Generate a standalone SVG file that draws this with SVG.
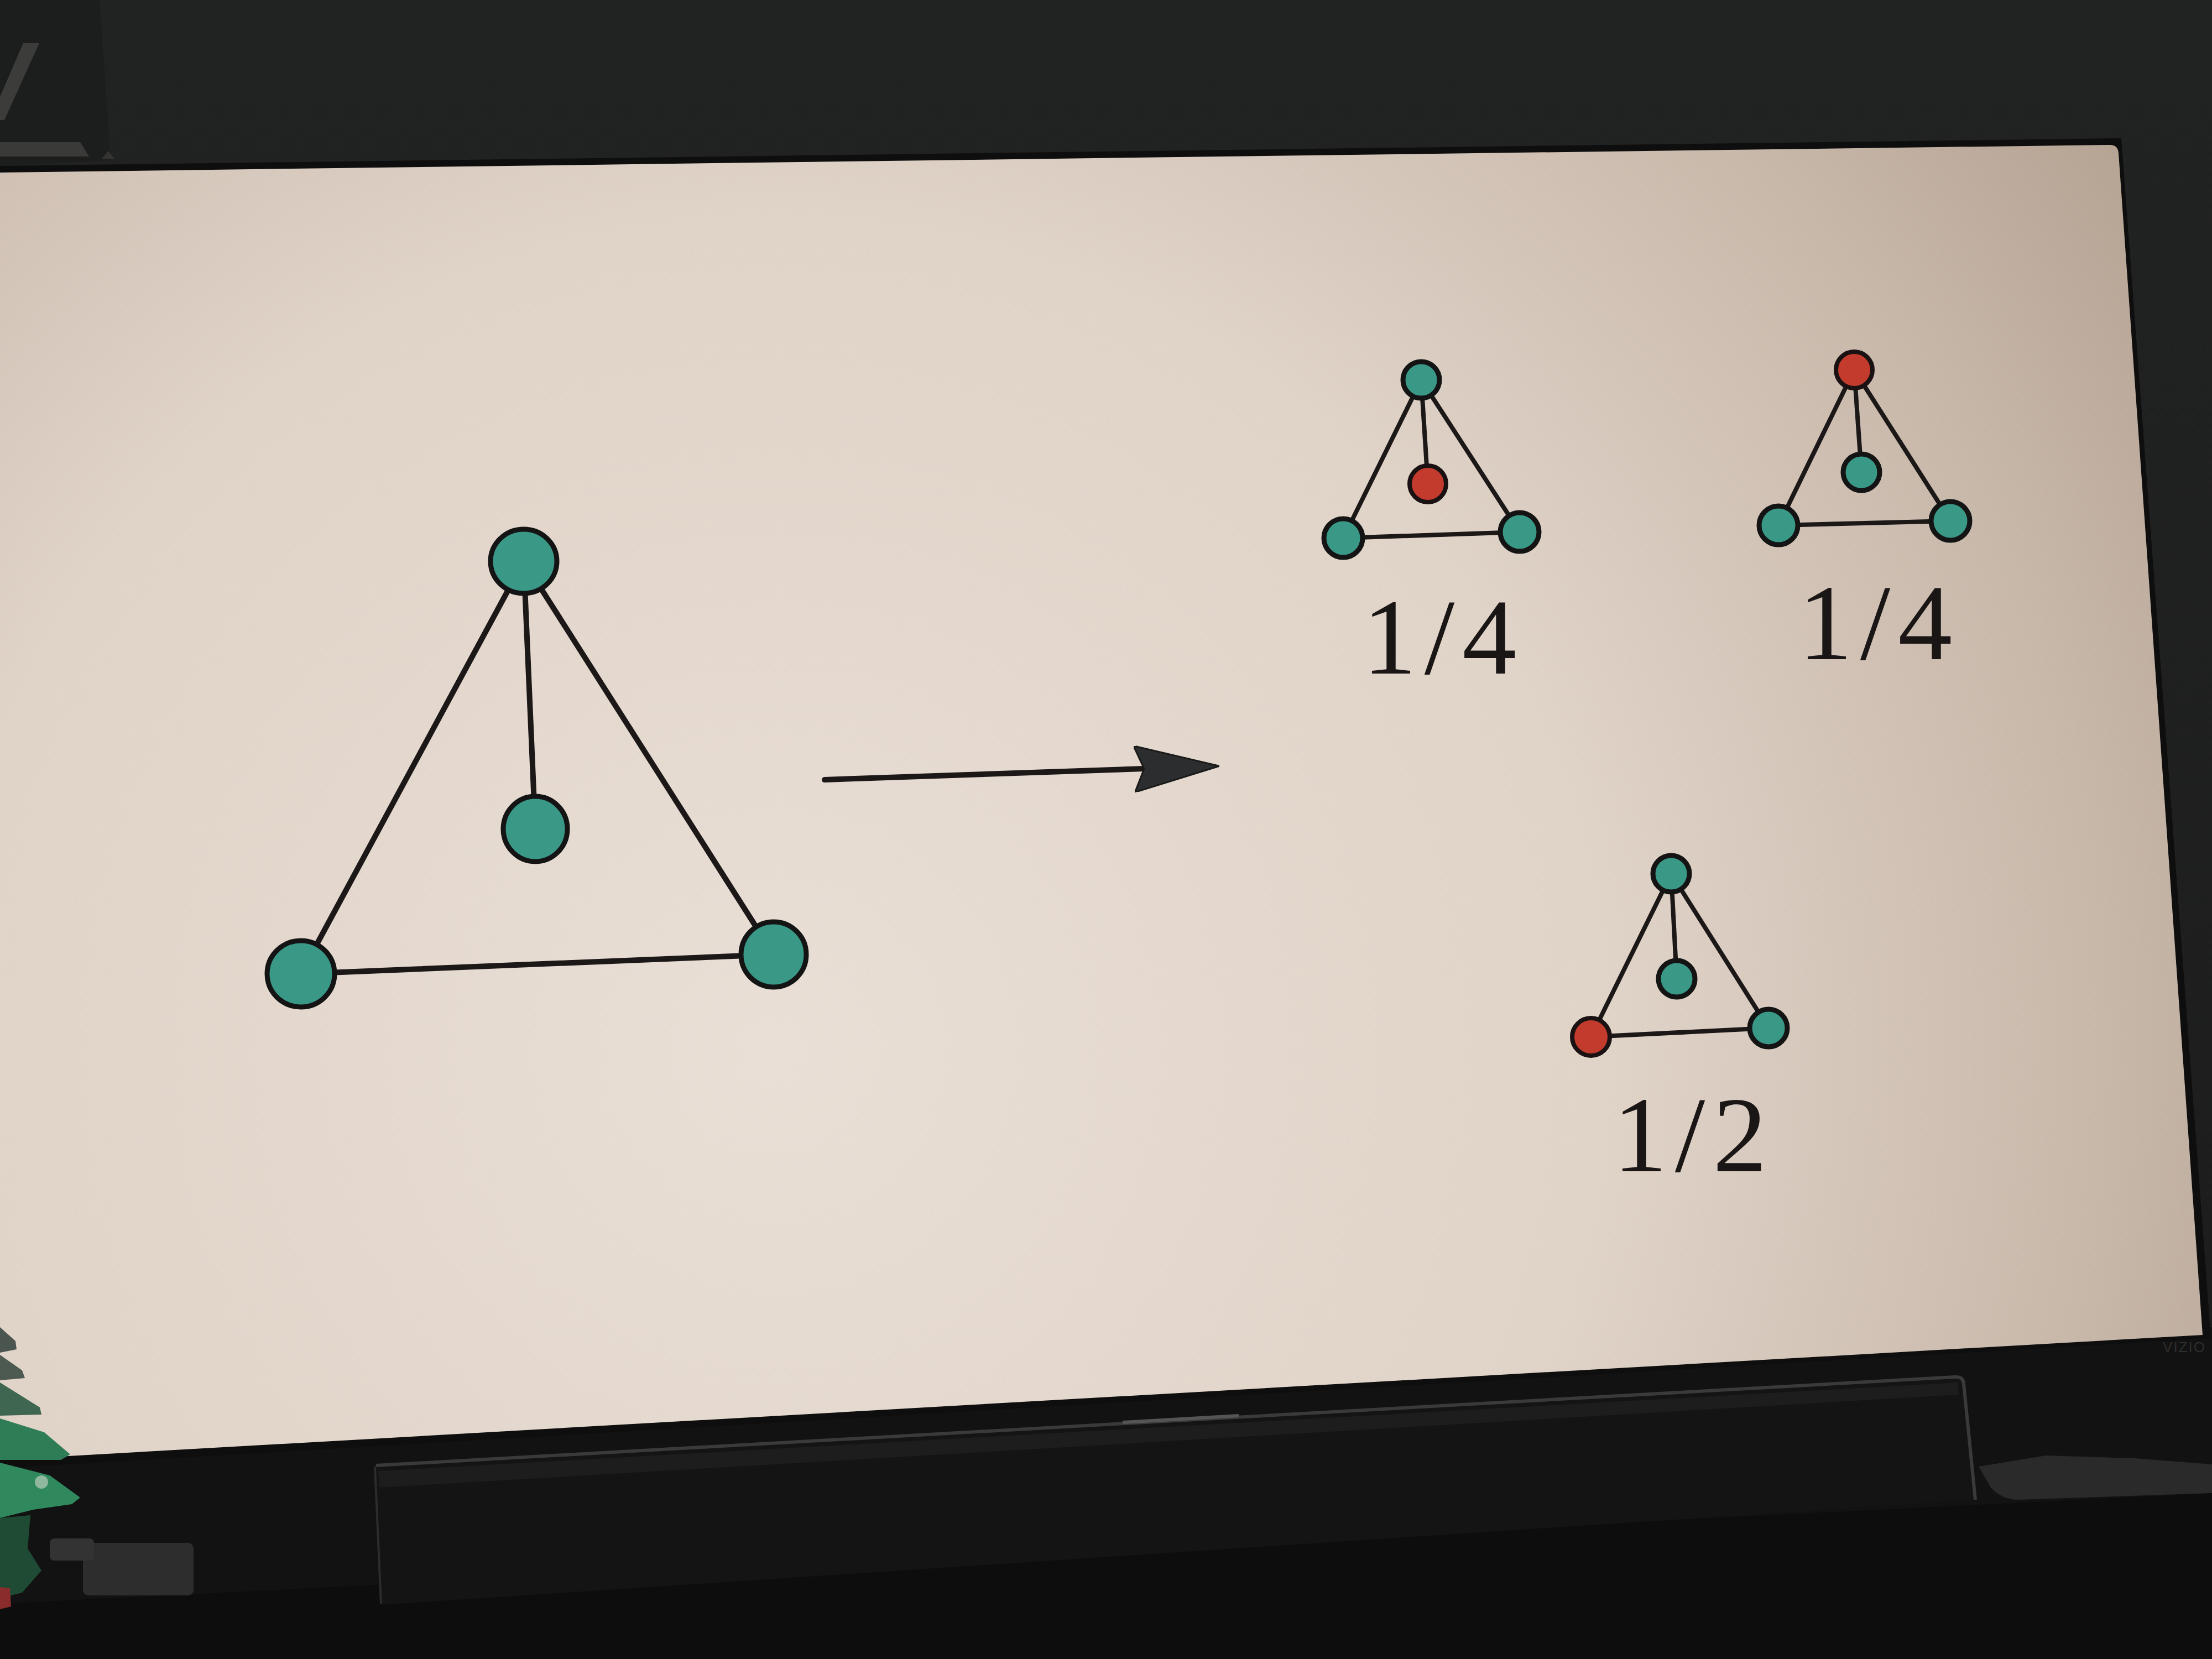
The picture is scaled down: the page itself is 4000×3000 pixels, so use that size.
<svg xmlns="http://www.w3.org/2000/svg" width="4000" height="3000" viewBox="0 0 4000 3000">
  <defs>
    <radialGradient id="screenGrad" gradientUnits="userSpaceOnUse" cx="1400" cy="1900" r="3000">
      <stop offset="0" stop-color="#e9dfd6"/>
      <stop offset="0.5" stop-color="#e0d3c8"/>
      <stop offset="0.8" stop-color="#c8b8aa"/>
      <stop offset="1" stop-color="#b3a191"/>
    </radialGradient>
    <linearGradient id="wallGrad" x1="0" y1="0" x2="0" y2="1">
      <stop offset="0" stop-color="#212322"/>
      <stop offset="1" stop-color="#1b1b1b"/>
    </linearGradient>
    <marker id="arrowHead" viewBox="0 0 154 84" refX="18" refY="42" markerWidth="154" markerHeight="84" markerUnits="userSpaceOnUse" orient="auto">
      <path d="M0,0 L154,42 L0,84 L18,42 Z" fill="#2b2d2e" stroke="#1a1a1a" stroke-width="3" stroke-linejoin="round"/>
    </marker>
    <style>
      .edge { stroke: #1c1818; stroke-width: 10; stroke-linecap: round; fill: none; }
      .edge-s { stroke: #1c1818; stroke-width: 8; stroke-linecap: round; fill: none; }
      .teal { fill: #3a9887; stroke: #141414; stroke-width: 9; }
      .red { fill: #c23b2d; stroke: #1a1212; stroke-width: 8; }
      .label { font-family: "Liberation Serif", "DejaVu Serif", serif; font-size: 196px; fill: #1a1616; text-anchor: middle; letter-spacing: 14px; }
    </style>
  </defs>

  <!-- room background -->
  <rect x="0" y="0" width="4000" height="3000" fill="url(#wallGrad)"/>
  <rect x="0" y="2400" width="4000" height="600" fill="#121212"/>
  <polygon points="0,2900 4000,2700 4000,3000 0,3000" fill="#0d0d0d"/>

  <!-- top-left objects -->
  <polygon points="0,0 180,0 200,290 0,300" fill="#1c1e1d"/>
  <polygon points="42,78 71,78 8,217 0,217 0,175" fill="#3c3d3a"/>
  <polygon points="0,257 145,257 161,283 0,283" fill="#3a3b38"/>
  <polygon points="184,287 196,273 207,287" fill="#353633"/>

  <!-- TV bezel and screen -->
  <polygon points="0,300 3836,250 3998,2420 0,2655" fill="#0e0e0e"/>
  <path id="screen" d="M0,312 L3815,262 Q3830,262 3831,277 L3983,2414 L0,2640 Z" fill="url(#screenGrad)"/>
  <text x="3950" y="2445" font-family="Liberation Sans, sans-serif" font-size="26" fill="#2e2e2e" text-anchor="middle" letter-spacing="2">VIZIO</text>

  <!-- soundbar -->
  <path d="M676,2648 L3535,2488 Q3550,2487 3551,2500 L3572,2712 L689,2902 Z" fill="#141414"/>
  <path d="M680,2650 L3535,2490 Q3550,2489 3551,2502 L3572,2712" fill="none" stroke="#3a3a3a" stroke-width="6"/>
  <path d="M684,2660 L3540,2500 L3542,2522 L686,2690 Z" fill="#1d1d1d"/>
  <line x1="678" y1="2652" x2="689" y2="2900" stroke="#2c2c2c" stroke-width="4"/>
  <line x1="2030" y1="2572" x2="2240" y2="2560" stroke="#555" stroke-width="6"/>
  <!-- right tray -->
  <path d="M3578,2652 L3700,2632 L3860,2637 L4000,2648 L4000,2700 L3650,2712 Q3620,2712 3600,2690 Z" fill="#2a2a2a"/>
  <!-- left box -->
  <rect x="150" y="2790" width="200" height="95" rx="10" fill="#2c2d2c"/>
  <rect x="90" y="2782" width="80" height="40" rx="8" fill="#333"/>

  <!-- tree -->
  <g id="tree">
    <polygon points="0,2400 28,2425 30,2440 0,2446" fill="#4b5550"/>
    <polygon points="0,2450 40,2478 45,2492 0,2496" fill="#4d5a52"/>
    <polygon points="0,2500 72,2545 75,2558 0,2560" fill="#3e6650"/>
    <polygon points="0,2565 80,2590 127,2630 110,2640 60,2640 0,2640" fill="#2f7d56"/>
    <polygon points="0,2645 90,2668 145,2708 130,2720 60,2730 0,2745" fill="#30895d"/>
    <polygon points="0,2745 55,2740 50,2800 75,2840 40,2880 0,2890" fill="#1f4a34"/>
    <circle cx="75" cy="2680" r="12" fill="#8fb89e"/>
    <polygon points="0,2870 18,2872 20,2905 0,2910" fill="#8a2c2c"/>
  </g>

  <!-- connectors -->
  <g id="connectors">
    <!-- large graph -->
    <line class="edge" x1="947" y1="1015" x2="968" y2="1499"/>
    <line class="edge" x1="947" y1="1015" x2="544" y2="1761"/>
    <line class="edge" x1="947" y1="1015" x2="1399" y2="1726"/>
    <line class="edge" x1="544" y1="1761" x2="1399" y2="1726"/>
    <!-- arrow -->
    <line class="edge" x1="1491" y1="1410" x2="2069" y2="1390" stroke-linecap="butt" marker-end="url(#arrowHead)"/>
    <!-- small graph A -->
    <line class="edge-s" x1="2570" y1="687" x2="2582" y2="875"/>
    <line class="edge-s" x1="2570" y1="687" x2="2429" y2="973"/>
    <line class="edge-s" x1="2570" y1="687" x2="2748" y2="962"/>
    <line class="edge-s" x1="2429" y1="973" x2="2748" y2="962" stroke-width="11"/>
    <!-- small graph B -->
    <line class="edge-s" x1="3353" y1="669" x2="3366" y2="854"/>
    <line class="edge-s" x1="3353" y1="669" x2="3216" y2="950"/>
    <line class="edge-s" x1="3353" y1="669" x2="3527" y2="942"/>
    <line class="edge-s" x1="3216" y1="950" x2="3527" y2="942" stroke-width="11"/>
    <!-- small graph C -->
    <line class="edge-s" x1="3022" y1="1580" x2="3032" y2="1770"/>
    <line class="edge-s" x1="3022" y1="1580" x2="2877" y2="1875"/>
    <line class="edge-s" x1="3022" y1="1580" x2="3198" y2="1859"/>
    <line class="edge-s" x1="2877" y1="1875" x2="3198" y2="1859"/>
  </g>

  <!-- large graph nodes -->
  <g id="big-top"><ellipse class="teal" cx="947" cy="1015" rx="60" ry="58"/></g>
  <g id="big-center"><ellipse class="teal" cx="968" cy="1499" rx="58" ry="59"/></g>
  <g id="big-left"><ellipse class="teal" cx="544" cy="1761" rx="61" ry="60"/></g>
  <g id="big-right"><ellipse class="teal" cx="1399" cy="1726" rx="59" ry="59"/></g>

  <!-- small graph A -->
  <g id="a-top"><circle class="teal" cx="2570" cy="687" r="33"/></g>
  <g id="a-center"><circle class="red" cx="2582" cy="875" r="33"/></g>
  <g id="a-left"><circle class="teal" cx="2429" cy="973" r="35"/></g>
  <g id="a-right"><circle class="teal" cx="2748" cy="962" r="35"/></g>
  <g id="label-a"><text class="label" x="2610" y="1218">1/4</text></g>

  <!-- small graph B -->
  <g id="b-top"><circle class="red" cx="3353" cy="669" r="33"/></g>
  <g id="b-center"><circle class="teal" cx="3366" cy="854" r="33"/></g>
  <g id="b-left"><circle class="teal" cx="3216" cy="950" r="35"/></g>
  <g id="b-right"><circle class="teal" cx="3527" cy="942" r="35"/></g>
  <g id="label-b"><text class="label" x="3398" y="1192">1/4</text></g>

  <!-- small graph C -->
  <g id="c-top"><circle class="teal" cx="3022" cy="1580" r="33"/></g>
  <g id="c-center"><circle class="teal" cx="3032" cy="1770" r="33"/></g>
  <g id="c-left"><circle class="red" cx="2877" cy="1875" r="34"/></g>
  <g id="c-right"><circle class="teal" cx="3198" cy="1859" r="34"/></g>
  <g id="label-c"><text class="label" x="3063" y="2118">1/2</text></g>
</svg>
